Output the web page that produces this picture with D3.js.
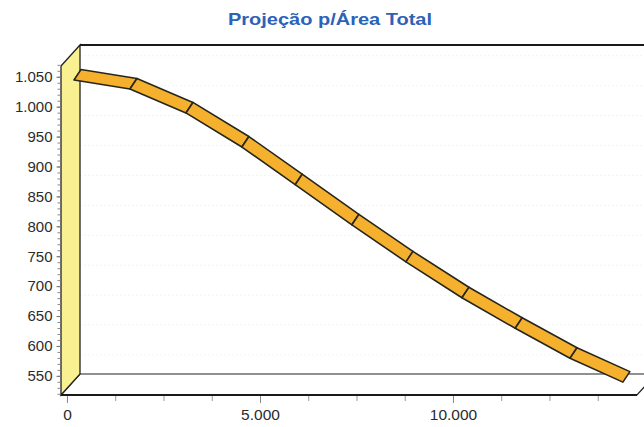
<!DOCTYPE html>
<html>
<head>
<meta charset="utf-8">
<script src="https://cdn.jsdelivr.net/npm/d3@7"></script>
<style>
  html, body { margin: 0; padding: 0; background: #ffffff; }
  svg { display: block; }
</style>
</head>
<body>
<svg id="chart" width="644" height="427"></svg>
<script>
// Series: projected value by total area
const areaValues = [0, 1450, 2900, 4350, 5730, 7200, 8600, 10050, 11430, 12850, 14220];
const projValues = [1032, 1017, 977, 920, 857, 790, 728, 668, 617, 567, 527];

// Axis ticks
const yTickLabels = [550, 600, 650, 700, 750, 800, 850, 900, 950, 1000, 1050];
const yMinorTicks = d3.range(520, 1071, 10);
const xTickLabels = [0, 5000, 10000];
const xMinorTicks = [0, 1250, 2500, 3750, 5000, 6250, 7500, 8750, 10000, 11250, 12500, 13750];

const titleText = "Projeção p/Área Total";

const svg = d3.select("#chart");

// Front plane of the 3D box
const boxL = 61, boxR = 637, boxT = 66, boxB = 395;
// Depth vector (front -> back)
const DX = 19, DY = -21;

const x = d3.scaleLinear().domain([-155, 14767]).range([boxL, boxR]);
const y = d3.scaleLinear().domain([518, 1068]).range([boxB, boxT]);

const ptBR = d3.formatLocale({ decimal: ",", thousands: ".", grouping: [3], currency: ["R$", ""] });
const fmt = ptBR.format(",d");

// Back wall (white) and faint gridlines on it
svg.append("rect")
  .attr("x", boxL + DX).attr("y", boxT + DY)
  .attr("width", boxR - boxL + 40).attr("height", boxB - boxT)
  .attr("fill", "#ffffff");

svg.append("g")
  .selectAll("line")
  .data(yTickLabels)
  .join("line")
  .attr("x1", boxL + DX).attr("x2", 644)
  .attr("y1", d => y(d) + DY).attr("y2", d => y(d) + DY)
  .attr("stroke", "#eef4f8").attr("stroke-width", 1)
  .attr("stroke-dasharray", "2,2");

// Floor
svg.append("path")
  .attr("d", d3.line()([
    [boxL, boxB], [boxR, boxB], [boxR + DX, boxB + DY], [boxL + DX, boxB + DY]
  ]) + "Z")
  .attr("fill", "#ffffff").attr("stroke", "#222").attr("stroke-width", 1.2);

// Left wall
svg.append("path")
  .attr("d", d3.line()([
    [boxL, boxT], [boxL + DX, boxT + DY], [boxL + DX, boxB + DY], [boxL, boxB]
  ]) + "Z")
  .attr("fill", "#f9f191").attr("stroke", "#222").attr("stroke-width", 1.3);

// Top edge of back wall
svg.append("line")
  .attr("x1", boxL + DX).attr("x2", 660)
  .attr("y1", boxT + DY).attr("y2", boxT + DY)
  .attr("stroke", "#1a1a1a").attr("stroke-width", 2);

// Front floor edge (heavier)
svg.append("line")
  .attr("x1", boxL).attr("x2", boxR)
  .attr("y1", boxB).attr("y2", boxB)
  .attr("stroke", "#1a1a1a").attr("stroke-width", 2);

// Ribbon: top face of the line series, offset into the depth of the box
const frontOff = [7, -7.5];
const backOff = [14, -18];
const pts = areaValues.map((a, i) => [x(a), y(projValues[i])]);
const ribbon = svg.append("g");
for (let i = 0; i < pts.length - 1; i++) {
  const p = pts[i], q = pts[i + 1];
  const quad = [
    [p[0] + frontOff[0], p[1] + frontOff[1]],
    [q[0] + frontOff[0], q[1] + frontOff[1]],
    [q[0] + backOff[0], q[1] + backOff[1]],
    [p[0] + backOff[0], p[1] + backOff[1]]
  ];
  ribbon.append("path")
    .attr("d", d3.line()(quad) + "Z")
    .attr("fill", "#f5b02e")
    .attr("stroke", "#26261e")
    .attr("stroke-width", 1.6)
    .attr("stroke-linejoin", "round");
}

// Y axis (front plane)
const yAxisMinor = d3.axisLeft(y).tickValues(yMinorTicks).tickSize(3).tickFormat("");
const yAxis = d3.axisLeft(y).tickValues(yTickLabels).tickSize(4).tickPadding(4).tickFormat(fmt);

const gyMinor = svg.append("g").attr("transform", `translate(${boxL - 0.5},0)`).call(yAxisMinor);
gyMinor.select(".domain").remove();
gyMinor.selectAll("line").attr("stroke", "#888");

const gy = svg.append("g").attr("transform", `translate(${boxL - 0.5},0)`).call(yAxis);
gy.select(".domain").remove();
gy.selectAll("line").attr("stroke", "#777");
gy.selectAll("text")
  .attr("fill", "#2b2b2b")
  .style("font-family", "Liberation Sans, Arial, sans-serif")
  .style("font-size", "15px");

// X axis (front floor edge)
const xAxisMinor = d3.axisBottom(x).tickValues(xMinorTicks).tickSize(5).tickFormat("");
const xAxis = d3.axisBottom(x).tickValues(xTickLabels).tickSize(7).tickPadding(6).tickFormat(fmt);

const gxMinor = svg.append("g").attr("transform", `translate(0,${boxB + 1})`).call(xAxisMinor);
gxMinor.select(".domain").remove();
gxMinor.selectAll("line").attr("stroke", "#999");

const gx = svg.append("g").attr("transform", `translate(0,${boxB + 1})`).call(xAxis);
gx.select(".domain").remove();
gx.selectAll("line").attr("stroke", "#888");
gx.selectAll("text")
  .attr("fill", "#2b2b2b")
  .style("font-family", "Liberation Sans, Arial, sans-serif")
  .style("font-size", "15.5px");

// Title
svg.append("text")
  .attr("x", 330).attr("y", 25)
  .attr("text-anchor", "middle")
  .attr("fill", "#2c62b8")
  .attr("textLength", 204)
  .attr("lengthAdjust", "spacingAndGlyphs")
  .style("font-family", "Liberation Sans, Arial, sans-serif")
  .style("font-weight", "bold")
  .style("font-size", "17px")
  .text(titleText);
</script>
</body>
</html>
